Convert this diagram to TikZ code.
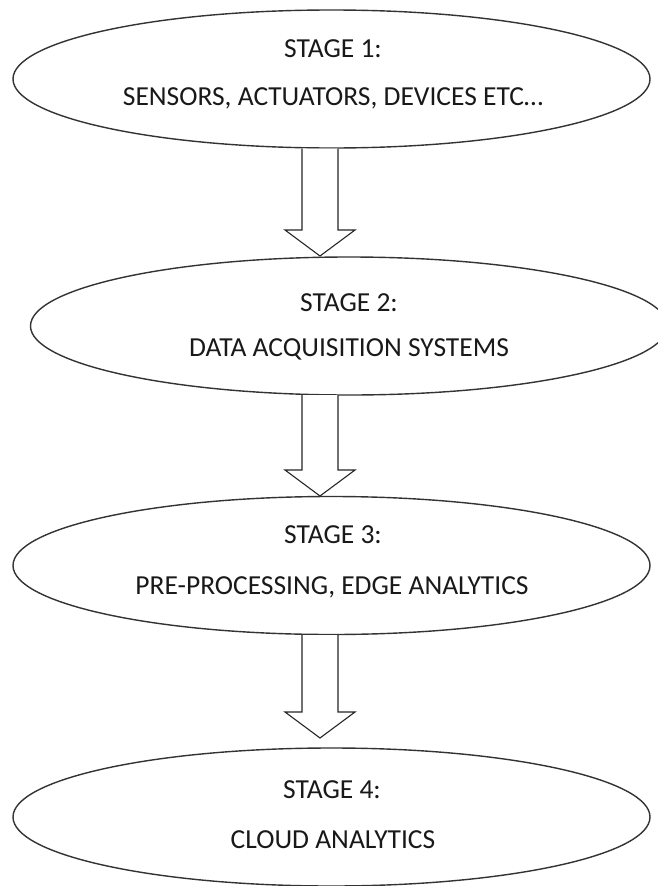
\documentclass[tikz,border=0pt]{standalone}
\usepackage{fontspec}
\setmainfont{Carlito}
\usetikzlibrary{shapes.geometric,calc}
\begin{document}
\begin{tikzpicture}[x=1pt,y=-1pt,
  stage/.style={ellipse,draw=black!80,line width=1.4pt,inner sep=0pt,minimum width=637pt,minimum height=138pt},
  lbl/.style={font=\fontsize{27.5}{32}\selectfont,text=black!90,inner sep=0pt,anchor=center},
  blockarrow/.style={draw=black!85,line width=1.1pt,line join=miter,fill=white}]
\useasboundingbox (0,0) rectangle (658,886);
\fill[white] (0,0) rectangle (658,886);
\node[stage] (e1) at (331.5,79) {};
\node[stage] (e2) at (349,326) {};
\node[stage] (e3) at (331.5,565.5) {};
\node[stage] (e4) at (331.5,817) {};
\node[lbl] (t1a) at (333,49) {STAGE 1:};
\node[lbl] (t1b) at (333,98) {SENSORS, ACTUATORS, DEVICES ETC…};
\node[lbl] (t2a) at (349,303) {STAGE 2:};
\node[lbl] (t2b) at (349,349) {DATA ACQUISITION SYSTEMS};
\node[lbl] (t3a) at (333,535) {STAGE 3:};
\node[lbl] (t3b) at (332,587) {PRE-PROCESSING, EDGE ANALYTICS};
\node[lbl] (t4a) at (332,790) {STAGE 4:};
\node[lbl] (t4b) at (333,840) {CLOUD ANALYTICS};
% block arrows
\coordinate (a1s) at (320,148.5);
\coordinate (a1t) at (320,256);
\coordinate (a2s) at (320,395);
\coordinate (a2t) at (320,496);
\coordinate (a3s) at (320,635);
\coordinate (a3t) at (320,738);
\foreach \s/\t in {a1s/a1t,a2s/a2t,a3s/a3t}{
  \draw[blockarrow] ($(\s)+(-18,0)$) -- ($(\t)+(-18,-26)$) -- ($(\t)+(-35,-26)$) -- (\t)
     -- ($(\t)+(35,-26)$) -- ($(\t)+(18,-26)$) -- ($(\s)+(18,0)$);
}
\end{tikzpicture}
\end{document}
